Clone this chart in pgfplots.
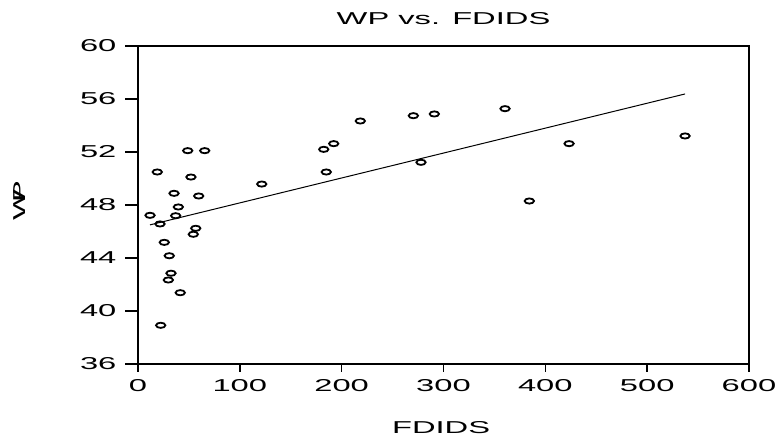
\documentclass[border=0pt]{standalone}
\usepackage{fontspec}
\setmainfont{Liberation Sans}[FakeStretch=1.9]
\usepackage{pgfplots}
\pgfplotsset{compat=1.18}

\newcommand{\lblfont}{\fontsize{8.6}{10}\selectfont}

\begin{document}
\begin{tikzpicture}
\begin{axis}[
    name=ax,
    scale only axis,
    width=305.5pt, height=159pt,
    xmin=0, xmax=600, ymin=36, ymax=60,
    xtick={0,100,...,600},
    ytick={36,40,...,60},
    tick align=outside,
    xtick pos=left, ytick pos=left,
    xtick style={/pgfplots/major tick length=4pt, line width=0.7pt, black},
    ytick style={/pgfplots/major tick length=6.5pt, line width=0.7pt, black},
    axis line style={line width=0.7pt},
    /pgf/number format/assume math mode=true,
    ticklabel style={font=\lblfont},
    yticklabel style={xshift=-3pt},
    label style={font=\lblfont},
    title={WP vs. FDIDS},
    title style={font=\lblfont, at={(axis description cs:0.5,1.05)}, anchor=center},
    xlabel={FDIDS},
    xlabel style={at={(axis description cs:0.496,-0.2)}, anchor=center},
    ylabel={W\kern-6pt P},
    ylabel style={at={(axis description cs:-0.193,0.514)}, anchor=center},
    clip=false,
]
\addplot[only marks, mark=o, mark size=1.3pt,
    mark options={xscale=1.8, line width=0.9pt, black}] coordinates {
    (48.8,52.10) (65.5,52.10) (18.95,50.49) (52.0,50.11) (35.4,48.88)
    (59.6,48.68) (39.6,47.85) (11.8,47.22) (37.0,47.19) (21.6,46.57)
    (56.7,46.24) (54.3,45.79) (25.8,45.18) (30.7,44.17) (32.4,42.85)
    (29.8,42.34) (41.5,41.38) (22.3,38.92)
    (121.5,49.58) (182.4,52.20) (192.2,52.63) (184.9,50.49) (218.3,54.34)
    (270.4,54.74) (291.0,54.87) (277.9,51.22) (360.4,55.27) (384.3,48.30)
    (537.2,53.21) (423.3,52.63)
};
\addplot[black, line width=0.5pt] coordinates {(11.8,46.50) (537.2,56.38)};
\end{axis}
\pgfresetboundingbox
\path ([shift={(-69pt,-38.5pt)}]ax.south west) rectangle ([shift={(14pt,23pt)}]ax.north east);
\end{tikzpicture}
\end{document}
